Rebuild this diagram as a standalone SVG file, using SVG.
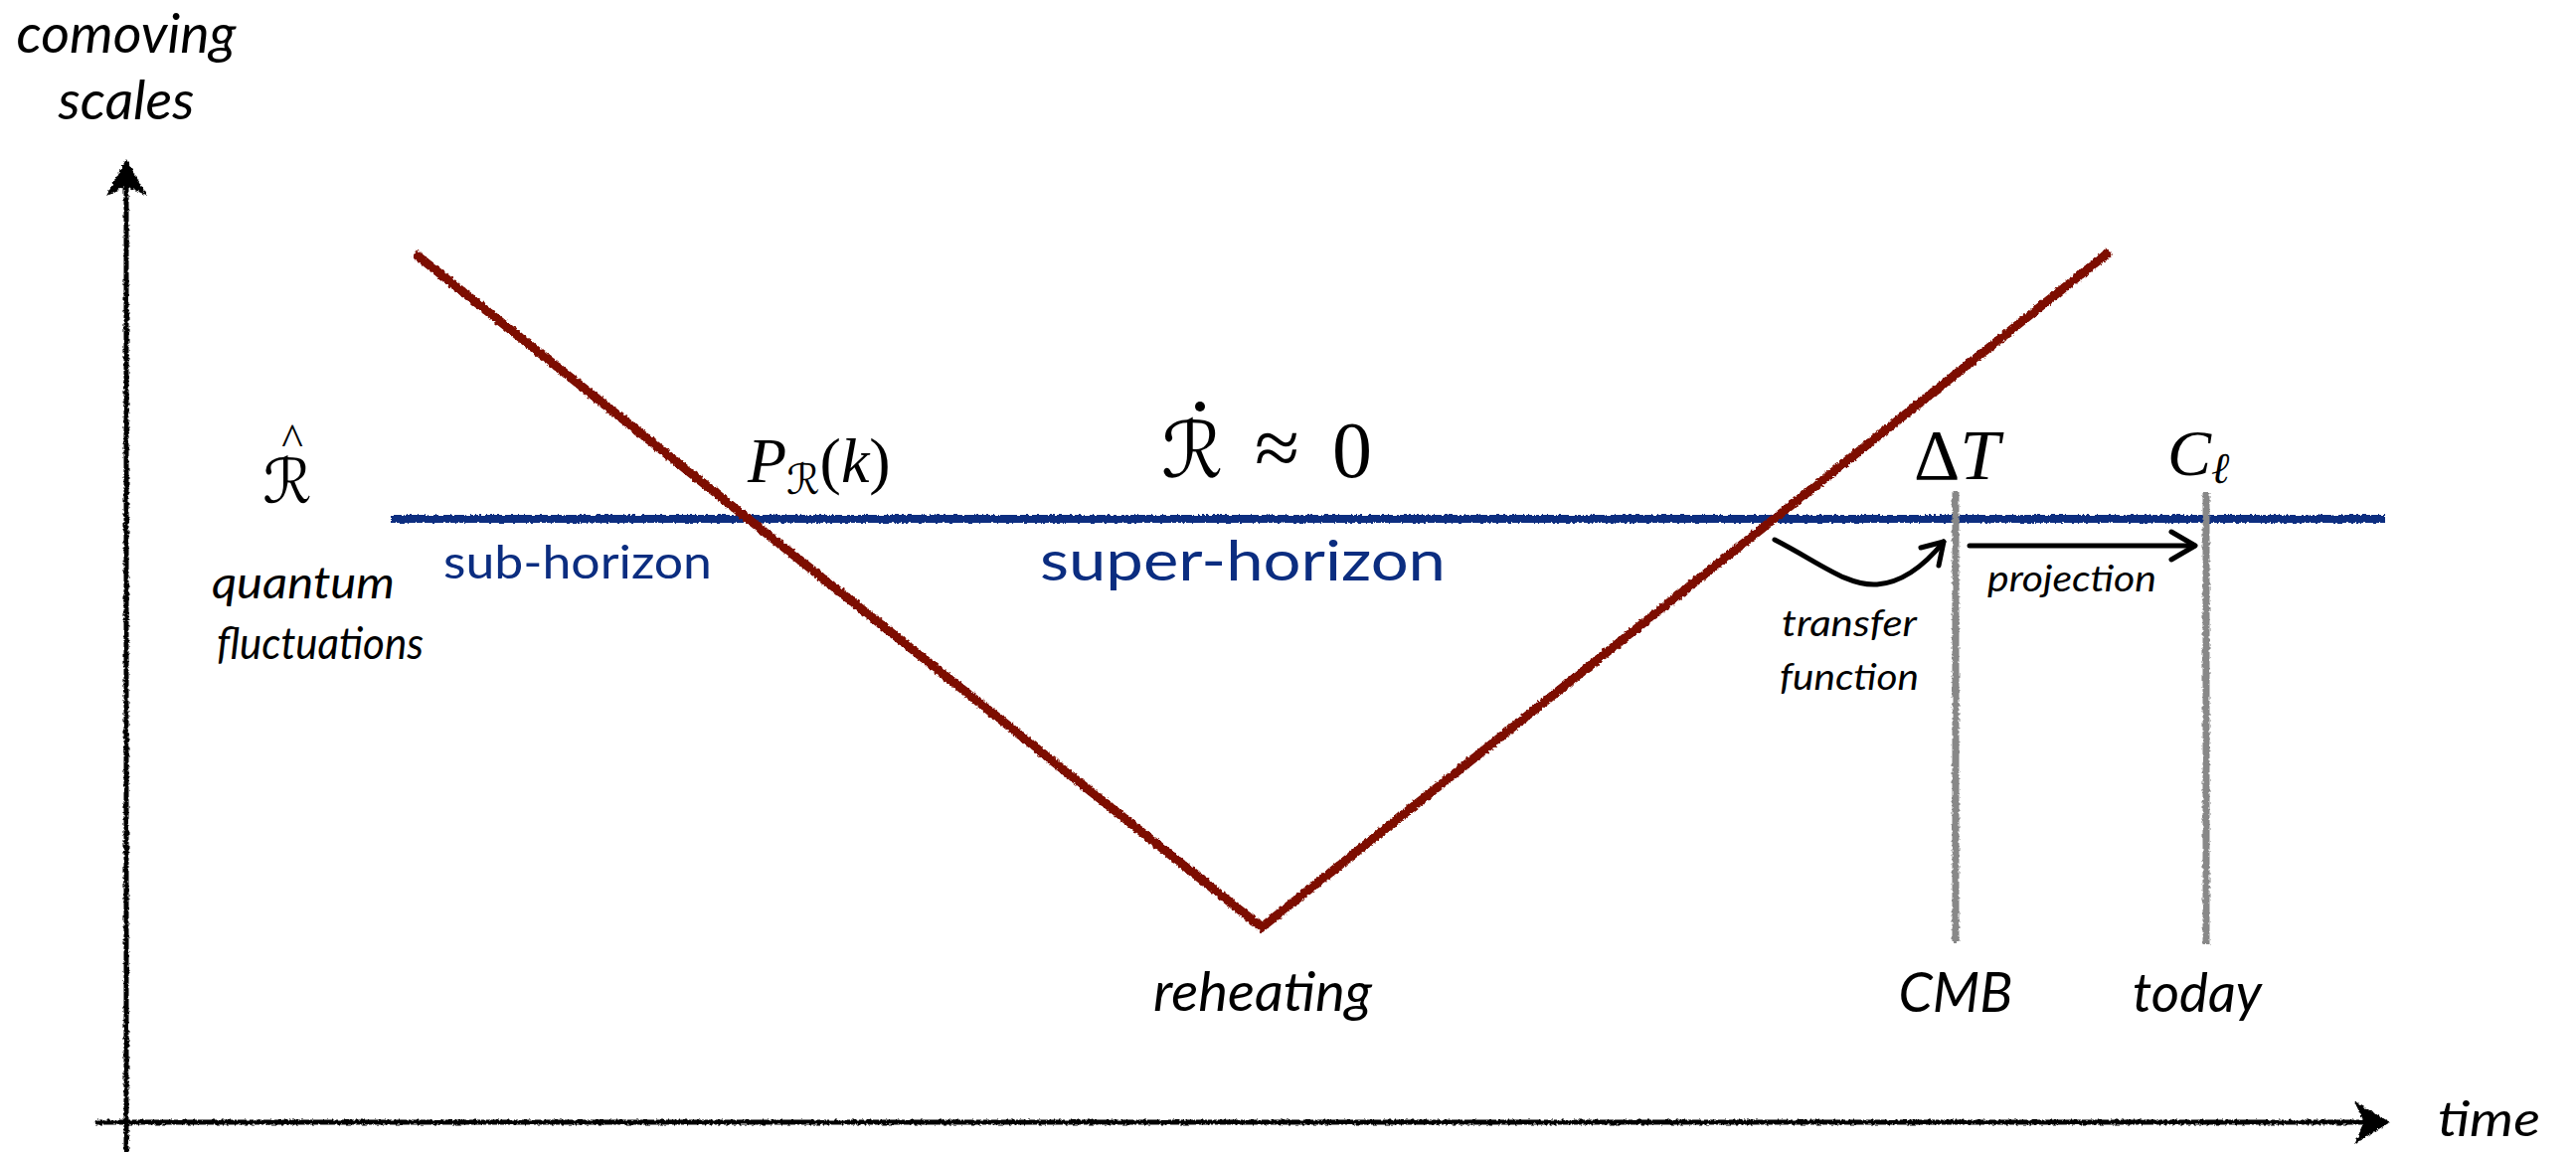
<svg xmlns="http://www.w3.org/2000/svg" width="2591" height="1159" viewBox="0 0 2591 1159">
<defs>
<filter id="rough" filterUnits="userSpaceOnUse" x="0" y="0" width="2591" height="1159">
<feTurbulence type="fractalNoise" baseFrequency="0.35" numOctaves="2" seed="3" result="n"/>
<feDisplacementMap in="SourceGraphic" in2="n" scale="4" xChannelSelector="R" yChannelSelector="G"/>
</filter>
</defs>
<style>
.lbl{font-family:Lato,"Open Sans","Noto Sans",sans-serif;font-style:italic;fill:#000}
.blu{font-family:Lato,"Open Sans","Noto Sans",sans-serif;fill:#0b2d80}
.math{font-family:"Liberation Serif","DejaVu Serif",serif;fill:#000}
.cal{font-family:"DejaVu Serif","DejaVu Sans",serif;fill:#000}
.axis{stroke:#000;stroke-width:5;fill:none;stroke-linecap:round}
.arw{stroke:#000;stroke-width:5;fill:none;stroke-linecap:round;stroke-linejoin:round}
.epoch{stroke:#888;stroke-width:7;fill:none}
</style>
<rect width="2591" height="1159" fill="#fff"/>
<g id="axes">
<g filter="url(#rough)">
<line class="axis" x1="127" y1="1159" x2="127" y2="180"/>
<path d="M127,160 L107,197 L127,187 L148,197 Z" fill="#000"/>
<line class="axis" x1="98" y1="1129" x2="2385" y2="1129"/>
<path d="M2404,1129 L2368,1108 L2378,1129 L2368,1151 Z" fill="#000"/>
</g>
<text class="lbl" x="127" y="53" font-size="54" text-anchor="middle" textLength="221" lengthAdjust="spacingAndGlyphs">comoving</text>
<text class="lbl" x="127" y="120" font-size="54" text-anchor="middle" textLength="137" lengthAdjust="spacingAndGlyphs">scales</text>
<text class="lbl" x="2452" y="1143" font-size="48" textLength="103" lengthAdjust="spacingAndGlyphs">time</text>
</g>
<g id="horizon-mode">
<line x1="393" y1="522" x2="2399" y2="522" stroke="#0b2d80" stroke-width="8" filter="url(#rough)"/>
<text class="blu" x="446" y="582" font-size="46" textLength="270" lengthAdjust="spacingAndGlyphs">sub-horizon</text>
<text class="blu" x="1046" y="584" font-size="56" textLength="408" lengthAdjust="spacingAndGlyphs">super-horizon</text>
</g>
<g id="epochs" filter="url(#rough)">
<line class="epoch" x1="1967" y1="494" x2="1967" y2="948"/>
<line class="epoch" x1="2219" y1="496" x2="2219" y2="950"/>
</g>
<g id="hubble-radius">
<polyline points="417,255 1269,933 2122,253" fill="none" stroke="#7d1100" stroke-width="9" stroke-linejoin="miter" filter="url(#rough)"/>
</g>
<g id="r-hat">
<text class="cal" x="289" y="506" font-size="62" text-anchor="middle">ℛ</text>
<text class="math" x="294" y="458" font-size="46" text-anchor="middle">^</text>
<text class="lbl" x="305" y="602" font-size="44" text-anchor="middle" textLength="184" lengthAdjust="spacingAndGlyphs">quantum</text>
<text class="lbl" x="322" y="663" font-size="44" text-anchor="middle" textLength="208" lengthAdjust="spacingAndGlyphs">fluctuations</text>
</g>
<g id="power-spectrum">
<text class="math" x="752" y="485" font-size="64"><tspan font-style="italic">P</tspan><tspan class="cal" font-size="42" dy="12">ℛ</tspan><tspan dy="-12">(</tspan><tspan font-style="italic">k</tspan>)</text>
</g>
<g id="conservation">
<text class="cal" x="1168" y="480" font-size="78">ℛ</text>
<circle cx="1207" cy="409" r="5" fill="#000"/>
<text class="math" x="1262" y="478" font-size="82">≈</text>
<text class="math" x="1340" y="480" font-size="80">0</text>
</g>
<g id="reheating">
<text class="lbl" x="1270" y="1017" font-size="54" text-anchor="middle" textLength="220" lengthAdjust="spacingAndGlyphs">reheating</text>
</g>
<g id="cmb">
<text class="math" x="1925" y="482" font-size="72">Δ<tspan font-style="italic">T</tspan></text>
<text class="lbl" x="1967" y="1018" font-size="56" text-anchor="middle" textLength="115" lengthAdjust="spacingAndGlyphs">CMB</text>
</g>
<g id="today">
<text class="math" x="2180" y="478" font-size="66" font-style="italic">C<tspan font-size="44" dy="8">ℓ</tspan></text>
<text class="lbl" x="2210" y="1018" font-size="54" text-anchor="middle" textLength="130" lengthAdjust="spacingAndGlyphs">today</text>
</g>
<g id="connectors">
<path class="arw" d="M1785,543 C1830,566 1858,590 1888,588 C1915,586 1938,566 1955,545"/>
<path class="arw" d="M1932,551 L1955,545 L1950,569"/>
<text class="lbl" x="1860" y="640" font-size="36" text-anchor="middle" textLength="136" lengthAdjust="spacingAndGlyphs">transfer</text>
<text class="lbl" x="1860" y="694" font-size="36" text-anchor="middle" textLength="140" lengthAdjust="spacingAndGlyphs">function</text>
<line class="arw" x1="1981" y1="549" x2="2207" y2="549"/>
<path class="arw" d="M2184,535 L2208,549 L2184,563"/>
<text class="lbl" x="2084" y="595" font-size="36" text-anchor="middle" textLength="170" lengthAdjust="spacingAndGlyphs">projection</text>
</g>
</svg>
